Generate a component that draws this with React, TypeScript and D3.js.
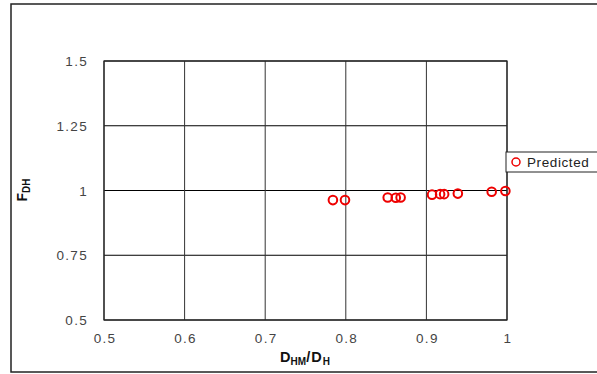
import { useEffect } from "react";
import * as d3 from "d3";

const xValues = [0.784, 0.799, 0.852, 0.862, 0.868, 0.907, 0.917, 0.922, 0.939, 0.981, 0.998];
const yValues = [0.963, 0.963, 0.973, 0.972, 0.973, 0.984, 0.986, 0.986, 0.988, 0.995, 0.998];
const xTicks = [0.5, 0.6, 0.7, 0.8, 0.9, 1];
const yTicks = [0.5, 0.75, 1, 1.25, 1.5];
const seriesName = "Predicted";

const W = 597;
const H = 374;
const margin = { left: 104, top: 61, right: 90, bottom: 54 };

export default function App() {
    useEffect(() => {
        document.body.style.margin = "0";
    }, []);

    const x = d3.scaleLinear().domain([0.5, 1]).range([margin.left, W - margin.right]);
    const y = d3.scaleLinear().domain([0.5, 1.5]).range([H - margin.bottom, margin.top]);
    const fmt = (v: number) => String(v);
    const font = "Arial, 'Liberation Sans', sans-serif";

    return (
        <svg width={W} height={H} style={{ display: "block" }}>
            <rect x={0} y={0} width={W} height={H} fill="#fff" />
            <rect x={11} y={4} width={W} height={368} fill="none" stroke="#222" strokeWidth={1.5} />

            {yTicks.map(t => (
                <line key={"h" + t} x1={x(0.5)} x2={x(1)} y1={y(t)} y2={y(t)} stroke="#000" strokeWidth={1} />
            ))}
            {xTicks.map(t => (
                <line key={"v" + t} x1={x(t)} x2={x(t)} y1={y(0.5)} y2={y(1.5)} stroke="#333" strokeWidth={1} />
            ))}
            <rect x={x(0.5)} y={y(1.5)} width={x(1) - x(0.5)} height={y(0.5) - y(1.5)} fill="none" stroke="#222" strokeWidth={1.2} />

            {yTicks.map(t => (
                <text key={"yl" + t} x={88} y={y(t) + 5} textAnchor="end" fontFamily={font} fontSize={13.5}
                    fill="#444" letterSpacing={1.3}>{fmt(t)}</text>
            ))}
            {xTicks.map(t => (
                <text key={"xl" + t} x={x(t) + 1} y={343} textAnchor="middle" fontFamily={font} fontSize={13.5}
                    fill="#444" letterSpacing={1.3}>{fmt(t)}</text>
            ))}

            {xValues.map((v, i) => (
                <circle key={i} cx={x(v)} cy={y(yValues[i])} r={4.3} fill="none" stroke="#e00" strokeWidth={2} />
            ))}

            <text x={305} y={362} textAnchor="middle" fontFamily={font} fontWeight="bold" fontSize={14.5} fill="#111">
                D<tspan fontSize={10} dy={3}>HM</tspan><tspan dy={-3} letterSpacing={1}>/D</tspan><tspan fontSize={10} dy={3}>H</tspan>
            </text>
            <text transform={`translate(27, 190) rotate(-90)`} textAnchor="middle" fontFamily={font} fontWeight="bold"
                fontSize={14} fill="#111">
                F<tspan fontSize={10} dy={3}>DH</tspan>
            </text>

            <rect x={506} y={152} width={W} height={20} fill="#fff" stroke="#222" strokeWidth={1} />
            <circle cx={516} cy={162} r={4} fill="none" stroke="#e00" strokeWidth={1.5} />
            <text x={527} y={167} fontFamily={font} fontSize={13.5} fill="#222" letterSpacing={0.6}>{seriesName}</text>
        </svg>
    );
}
